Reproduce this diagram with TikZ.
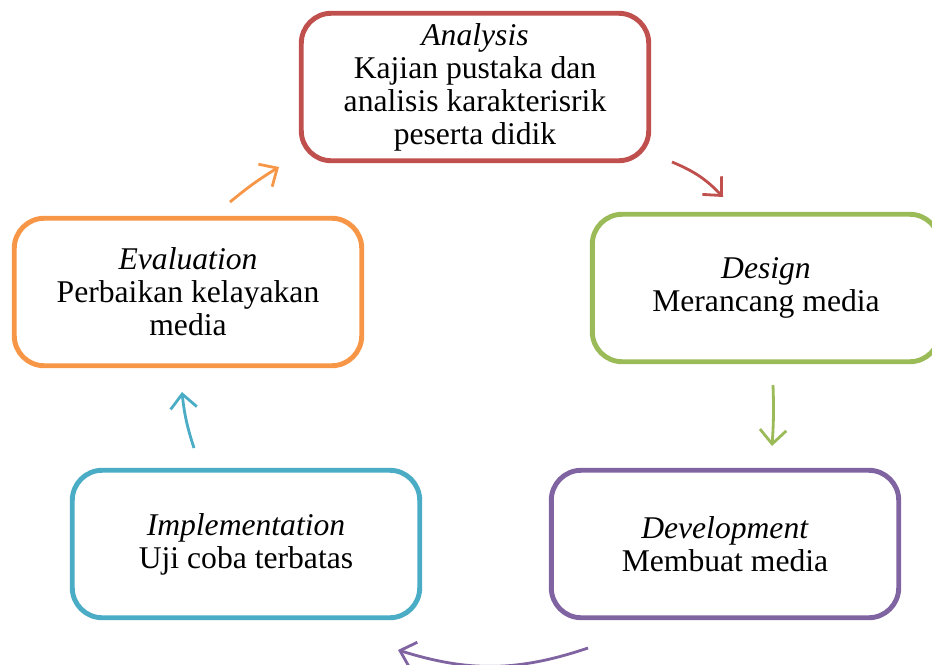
\documentclass[tikz,border=0pt]{standalone}
\usepackage{fontspec}
\setmainfont{Liberation Serif}
\usetikzlibrary{arrows.meta}
\definecolor{anacol}{HTML}{C0504D}
\definecolor{descol}{HTML}{9BBB59}
\definecolor{devcol}{HTML}{8064A2}
\definecolor{impcol}{HTML}{4BACC6}
\definecolor{evacol}{HTML}{F79646}

\begin{document}
\begin{tikzpicture}[x=0.02cm,y=-0.02cm,
>={Straight Barb[length=8pt,width=15pt]},
stage/.style={draw,rounded corners=0.6cm,line width=2.8pt,minimum width=6.95cm,
minimum height=2.95cm,align=center,font=\fontsize{18}{18.8}\selectfont},
link/.style={->,line width=1.6pt}]
\useasboundingbox (0,0) rectangle (932,664);
\node[stage,draw=anacol] (ana) at (475,87) {\textit{Analysis}\\Kajian pustaka dan\\analisis karakterisrik\\peserta didik};
\node[stage,draw=descol] (des) at (766,288) {\textit{Design}\\Merancang media};
\node[stage,draw=devcol] (dev) at (725,544) {\textit{Development}\\Membuat media};
\node[stage,draw=impcol] (imp) at (246,544) {\textit{Implementation}\\Uji coba terbatas};
\node[stage,draw=evacol] (eva) at (188,292) {\textit{Evaluation}\\Perbaikan kelayakan\\media};
% arrow ends
\coordinate (a1) at (672,162);
\coordinate (a2) at (723,197);
\coordinate (d1) at (773,385);
\coordinate (d2) at (772,446);
\coordinate (v1) at (588,648);
\coordinate (v2) at (398,650);
\coordinate (i1) at (194,448);
\coordinate (i2) at (182,392);
\coordinate (e1) at (230,202);
\coordinate (e2) at (279,167);
\draw[link,anacol] (a1) to[bend left=12] (a2);
\draw[link,descol] (d1) to[bend left=3] (d2);
\draw[link,devcol] (v1) to[bend left=18] (v2);
\draw[link,impcol] (i1) to[bend left=6] (i2);
\draw[link,evacol] (e1) to[bend left=4] (e2);
\end{tikzpicture}
\end{document}
